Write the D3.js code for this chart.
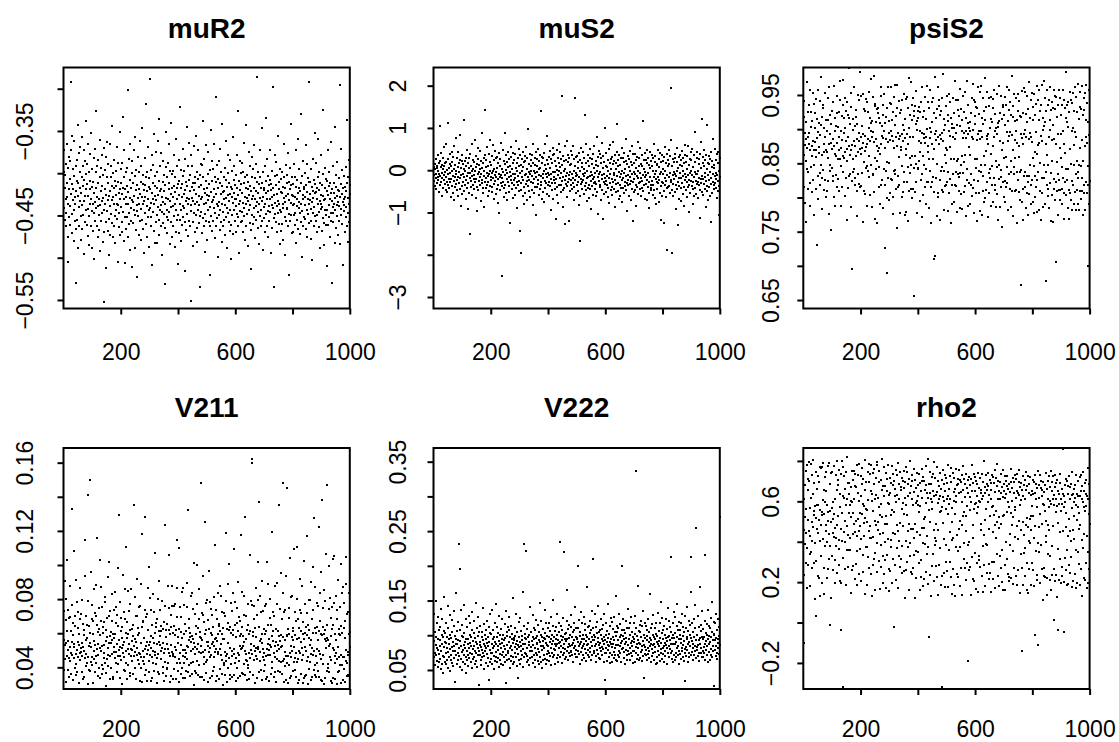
<!DOCTYPE html>
<html>
<head>
<meta charset="utf-8">
<script src="https://cdn.jsdelivr.net/npm/d3@7"></script>
<style>
  body { margin: 0; background: #fff; }
  text { font-family: "Liberation Sans", Arial, sans-serif; }
</style>
</head>
<body>
<div id="chart"></div>
<script>
// trace values, one per iteration (1..1000), stored as integers
// muR2, psiS2, V222, rho2 in thousandths; muS2 in hundredths; V211 in ten-thousandths
var muR2 = [
-398,-441,-372,-455,-418,-402,-463,-389,-431,-447,-366,-412,-428,-475,-505,-394,-436,-381,-452,-419,
-407,-386,-439,-461,-372,-292,-425,-448,-413,-356,-471,-432,-395,-419,-480,-444,-362,-403,-428,-456,
-437,-392,-466,-530,-421,-384,-409,-455,-343,-427,-488,-411,-376,-440,-462,-398,-433,-417,-369,-451,
-424,-479,-405,-357,-438,-466,-392,-415,-449,-372,-433,-496,-408,-385,-427,-458,-338,-419,-444,-401,
-461,-413,-389,-442,-474,-366,-427,-451,-398,-485,-419,-436,-377,-409,-463,-431,-352,-445,-488,-416,
-395,-437,-468,-410,-382,-447,-423,-502,-371,-434,-457,-399,-418,-441,-326,-463,-428,-392,-476,-439,
-412,-384,-449,-430,-467,-405,-361,-438,-492,-421,-394,-456,-433,-378,-447,-415,-481,-402,-429,-370,
-443,-470,-552,-419,-396,-437,-458,-381,-426,-512,-404,-445,-363,-432,-468,-411,-389,-454,-427,-497,
-421,-366,-439,-473,-405,-448,-391,-432,-459,-415,-344,-428,-476,-400,-437,-462,-384,-418,-451,-409,
-482,-426,-397,-443,-415,-369,-454,-436,-505,-410,-438,-388,-464,-423,-447,-351,-419,-473,-430,-395,
-440,-412,-469,-388,-425,-458,-333,-417,-446,-480,-404,-431,-373,-452,-419,-506,-437,-398,-466,-428,
-415,-452,-394,-436,-475,-302,-422,-447,-383,-460,-429,-408,-491,-365,-441,-418,-456,-400,-432,-511,
-386,-434,-459,-411,-372,-444,-427,-488,-403,-449,-357,-420,-467,-396,-438,-414,-523,-445,-381,-429,
-451,-419,-398,-473,-436,-362,-425,-457,-410,-442,-391,-479,-428,-347,-455,-413,-437,-402,-466,-420,
-433,-495,-414,-382,-447,-428,-460,-405,-318,-439,-421,-476,-398,-452,-431,-369,-444,-416,-487,-406,
-289,-441,-419,-463,-396,-435,-452,-378,-424,-509,-411,-446,-390,-430,-468,-354,-437,-415,-482,-427,
-403,-458,-375,-432,-449,-417,-483,-398,-440,-362,-426,-455,-409,-473,-336,-444,-421,-391,-463,-438,
-419,-376,-446,-428,-497,-410,-434,-459,-385,-421,-448,-402,-531,-437,-414,-465,-393,-429,-351,-452,
-443,-405,-471,-388,-430,-455,-419,-366,-446,-412,-484,-433,-397,-458,-425,-341,-440,-418,-476,-401,
-428,-462,-397,-439,-415,-378,-451,-487,-422,-436,-404,-469,-360,-443,-417,-455,-392,-431,-508,-413,
-450,-384,-426,-471,-409,-437,-322,-455,-418,-444,-396,-480,-428,-413,-461,-371,-439,-403,-452,-425,
-397,-441,-516,-420,-458,-383,-433,-410,-467,-429,-345,-448,-415,-391,-474,-436,-408,-456,-364,-431,
-421,-463,-402,-438,-379,-551,-445,-416,-429,-392,-458,-411,-486,-433,-368,-447,-420,-404,-470,-437,
-412,-356,-449,-425,-465,-398,-434,-481,-407,-443,-372,-427,-459,-416,-438,-535,-402,-451,-389,-430,
-446,-414,-471,-390,-428,-453,-405,-338,-437,-462,-419,-383,-448,-424,-493,-409,-435,-367,-457,-426,
-418,-479,-401,-444,-375,-432,-458,-413,-427,-520,-396,-440,-463,-349,-422,-451,-409,-434,-386,-468,
-432,-395,-456,-419,-441,-366,-428,-477,-404,-447,-425,-310,-462,-410,-436,-390,-453,-417,-499,-439,
-407,-450,-386,-434,-467,-412,-443,-371,-425,-458,-399,-436,-481,-415,-342,-446,-422,-463,-405,-431,
-455,-421,-394,-473,-438,-408,-452,-429,-362,-441,-416,-489,-400,-447,-426,-379,-458,-433,-411,-468,
-425,-384,-443,-416,-461,-502,-428,-397,-450,-419,-435,-357,-472,-408,-444,-423,-391,-456,-430,-414,
-439,-469,-402,-431,-378,-448,-417,-463,-326,-426,-452,-409,-437,-495,-420,-445,-386,-433,-458,-400,
-413,-446,-388,-457,-424,-435,-470,-399,-441,-412,-364,-451,-428,-404,-479,-437,-418,-343,-462,-429,
-448,-402,-433,-419,-486,-410,-444,-375,-426,-459,-415,-438,-392,-467,-421,-513,-404,-449,-431,-381,
-427,-460,-395,-441,-418,-367,-452,-430,-477,-406,-439,-421,-455,-389,-434,-410,-286,-446,-424,-465,
-398,-436,-413,-484,-429,-451,-404,-372,-443,-418,-462,-433,-347,-456,-411,-428,-491,-399,-440,-420,
-453,-417,-469,-392,-437,-424,-335,-448,-409,-463,-430,-383,-445,-421,-476,-403,-439,-414,-457,-372,
-431,-408,-446,-420,-494,-413,-438,-465,-397,-428,-298,-441,-418,-453,-535,-426,-403,-448,-379,-435,
-414,-458,-387,-439,-425,-470,-402,-433,-356,-447,-419,-460,-410,-436,-484,-395,-443,-422,-468,-407,
-446,-423,-460,-398,-437,-416,-479,-441,-405,-365,-429,-452,-418,-497,-434,-390,-456,-427,-411,-442,
-402,-441,-376,-425,-463,-410,-448,-432,-520,-419,-394,-457,-435,-414,-342,-449,-426,-471,-405,-438,
-427,-469,-413,-450,-389,-436,-404,-461,-428,-447,-373,-416,-482,-431,-455,-408,-439,-360,-424,-466,
-441,-395,-434,-418,-472,-447,-421,-330,-458,-412,-436,-499,-403,-445,-426,-385,-462,-430,-416,-452,
-419,-454,-400,-438,-428,-367,-466,-414,-443,-422,-389,-475,-431,-406,-448,-292,-437,-410,-459,-425,
-432,-410,-478,-395,-442,-456,-416,-434,-503,-421,-447,-383,-429,-463,-408,-440,-352,-424,-451,-413,
-457,-422,-388,-449,-417,-431,-470,-404,-437,-359,-446,-420,-464,-399,-433,-488,-411,-442,-426,-378,
-436,-468,-414,-440,-325,-453,-427,-401,-459,-432,-485,-418,-444,-394,-430,-461,-407,-449,-421,-510,
-409,-443,-426,-372,-461,-415,-438,-452,-398,-431,-475,-411,-447,-363,-424,-456,-433,-530,-419,-440,
-447,-392,-458,-423,-436,-411,-482,-429,-345,-444,-416,-465,-402,-438,-427,-387,-451,-420,-473,-434,
-421,-457,-406,-439,-484,-296,-428,-449,-413,-371,-442,-425,-460,-396,-434,-509,-418,-445,-403,-430,
-438,-416,-470,-428,-393,-452,-421,-440,-337,-463,-411,-447,-429,-481,-405,-436,-458,-384,-425,-414
];

var muS2 = [
-12,8,-25,14,-38,3,-19,26,-8,-44,11,-31,5,-16,35,-22,-3,18,-51,-9,
104,-14,22,-36,7,-27,41,-6,-60,13,-18,30,-41,2,-11,55,-24,9,-33,17,
-5,-47,20,-15,63,-29,1,-52,27,-10,-36,112,-20,6,-43,15,-28,38,-7,-64,
10,-21,44,-38,-2,19,-55,31,-13,-70,4,-26,58,-17,-40,12,-8,76,-33,-1,
-23,29,-48,7,-15,42,-62,18,-4,-30,83,-19,-45,25,-11,-84,6,-37,21,-56,
36,-9,-27,14,-50,3,118,-16,-35,22,-1,-68,30,-24,11,-42,47,-13,-6,-92,
16,-31,5,-53,28,-18,39,-7,-152,-26,9,-40,61,-14,-2,-58,24,-34,2,-21,
-45,19,-12,71,-29,-3,-66,33,-20,8,-39,15,-97,27,-10,-48,52,-5,-25,12,
3,-36,45,-17,-74,21,-8,-31,88,-22,6,-55,17,-42,30,-13,-1,-86,36,-27,
142,-19,8,-43,25,-6,-35,54,-14,-62,11,-28,38,-9,-49,20,-3,72,-37,-16,
-24,13,-51,33,-7,-40,60,-18,-2,-33,23,-69,4,-26,46,-11,-57,29,-15,-4,
31,-45,6,-21,-78,17,-36,41,-9,-102,26,-15,-48,9,-30,65,-12,-250,-38,2,
-18,48,-27,-5,-63,22,-41,14,-11,87,-34,1,-54,36,-20,-7,-71,19,-29,43,
7,-37,26,-16,-52,10,-4,-125,32,-24,55,-13,-44,3,-31,18,-66,40,-8,-22,
-35,24,-10,-58,38,-19,5,-43,70,-28,-1,-90,16,-36,29,-14,-49,11,-25,51,
-145,-6,35,-197,-30,13,-47,27,-17,-3,-61,44,-22,8,-40,19,-80,33,-12,-55,
21,-33,-9,56,-26,4,-71,30,-15,-38,97,-5,-50,15,-23,39,-10,-64,25,-2,
-29,9,-46,35,-13,-83,18,-31,62,-20,-1,-53,28,-7,-39,13,-107,42,-16,-4,
26,-40,11,-22,50,-33,2,-58,21,-11,37,-45,6,-27,140,-14,-36,16,-67,31,
-8,-51,29,-18,-3,-75,40,-25,12,-42,63,-10,-30,4,-56,23,-17,80,-35,-6,
14,-28,-62,32,-12,45,-37,5,-20,-94,27,-9,-48,18,-31,53,-4,-69,36,-23,
-15,38,-5,-44,22,-30,-115,9,-21,48,-39,1,-59,30,-11,-77,17,-34,61,-2,
43,-19,8,-52,27,-7,-35,176,-26,12,-46,33,-16,-86,21,-3,-41,57,-24,-128,
4,-32,24,-14,68,-38,-6,-64,19,-27,35,-11,-119,28,-20,-50,13,-5,-35,46,
-22,15,-45,37,-9,-31,58,-18,-2,-71,26,-40,10,-24,172,-13,-55,31,-7,-36,
33,-12,-49,20,-29,6,-82,41,-17,-3,-60,24,-167,-33,52,-21,8,-44,17,-27,
-10,42,-24,3,-56,29,-14,-38,130,-6,-47,18,-30,62,-19,-1,-73,35,-16,-42,
22,-35,9,-66,30,-13,-45,50,-25,-4,-91,27,-11,-38,14,-58,39,-20,6,-30,
-17,57,-28,-7,-44,21,-61,13,-33,79,-1,-52,32,-15,-104,10,-26,45,-8,-39,
38,-4,-36,16,-70,28,-12,-47,64,-21,5,-115,34,-29,-9,-57,20,-18,101,-32,
-26,11,-51,40,-14,-35,8,-63,24,-3,-42,49,-19,-77,16,-31,59,-10,-46,27,
2,-39,31,-20,-58,14,-28,67,-7,-45,21,-12,-88,36,-24,4,-52,18,-33,110,
-13,44,-31,9,-49,25,-4,-67,37,-17,-36,12,-60,28,-9,-42,53,-22,-1,-75,
30,-18,-43,19,-6,-55,41,-27,3,-38,74,-14,-48,22,-30,-96,15,-11,34,-23,
-36,8,-62,27,-16,46,-33,-2,-70,20,-25,58,-10,-44,13,-29,-120,38,-5,-52,
17,-21,39,-8,-47,24,-35,5,-84,31,-13,-40,66,-19,-3,-57,28,-31,11,-45,
-6,52,-29,14,-60,-18,35,-41,9,-26,117,-11,-50,23,-35,2,-68,40,-15,-4,
25,-33,-12,47,-23,-71,18,-39,30,-7,-54,13,-28,-90,44,-17,6,-46,21,-36,
-41,10,-25,36,-58,-3,29,-34,-15,62,-48,20,-9,-66,33,-21,-1,-80,15,-27,
12,-44,48,-17,-31,7,-75,26,-22,41,-10,-53,19,-37,-118,-5,35,-28,-60,3,
-30,22,-8,-49,-125,31,-19,55,-35,-2,-64,16,-26,38,-12,-43,-188,24,-40,9,
48,-16,-37,15,-55,-7,34,-29,71,195,-23,-47,10,-197,-33,27,-11,-62,20,-4,
-21,39,-52,-9,28,-36,-14,-92,19,-44,-2,53,-27,-130,6,-38,31,-18,-68,12,
35,-6,-42,24,-19,-73,11,-31,46,-13,-56,-3,29,-40,16,-85,37,-24,-8,60,
-17,-48,20,-29,4,-63,33,-11,-39,58,-22,-100,13,-35,27,-7,-54,42,-26,-1,
23,-37,-12,51,-45,8,-28,-79,35,-16,-61,19,-4,-42,90,-25,-10,-57,30,-33,
-9,43,-27,-3,-66,26,-35,14,-18,-112,39,-46,5,-21,67,-30,120,-13,-52,17,
31,-20,-58,11,-32,48,-7,-44,23,-15,-87,36,-26,2,-49,108,-38,18,-11,-70,
-24,15,-40,34,-60,-5,27,-33,-122,42,-19,8,-53,21,-28,-9,75,-45,13,-36,
6,-30,50,-14,-43,25,-21,-7,-65,38,-11,-49,18,-25,44,-38,-3,-106,29,-16
];

var psiS2 = [
862,941,815,918,877,792,895,764,910,853,886,969,841,873,925,812,889,838,936,879,
894,821,957,788,869,903,844,925,876,808,912,861,953,883,826,937,869,774,847,902,
881,923,859,812,944,870,731,915,887,831,896,798,958,865,909,874,819,892,836,941,
848,977,906,783,829,918,862,935,840,931,879,811,902,866,953,825,889,801,913,870,
914,866,809,897,945,858,824,913,776,878,961,847,920,839,893,752,907,880,843,926,
871,939,832,886,824,963,876,801,898,864,917,787,833,905,860,948,880,815,924,857,
903,827,925,869,889,810,942,856,971,873,788,898,846,919,815,884,972,861,936,838,
858,894,917,802,945,866,901,829,882,926,767,871,939,853,889,814,920,876,831,989,
917,862,834,908,786,933,870,953,824,877,695,915,856,899,837,842,961,883,818,904,
875,829,928,861,918,809,886,773,907,867,950,835,894,820,882,942,815,871,983,863,
889,948,817,872,905,836,893,764,951,880,810,929,852,927,868,890,805,944,874,843,
846,879,940,787,886,925,839,902,830,955,861,882,916,803,897,973,848,909,786,888,
912,833,834,896,947,808,978,881,858,934,769,937,842,885,911,762,876,929,853,924,
868,931,815,845,916,872,790,909,863,962,948,818,879,905,826,890,921,784,887,936,
897,842,952,726,873,909,818,886,839,918,800,689,931,852,962,881,828,895,797,912,
851,884,938,806,937,827,898,962,914,825,890,776,925,801,883,947,839,872,964,834,
906,840,813,919,888,755,931,876,964,831,815,894,859,941,818,886,923,777,890,869,
874,928,801,893,846,942,882,808,906,837,899,951,823,887,774,915,871,944,862,779,
893,822,947,879,766,931,844,901,975,810,836,888,921,858,813,969,847,936,799,913,
860,945,889,812,919,843,656,926,861,934,808,849,907,956,823,912,778,899,843,927,
917,841,854,932,883,795,925,867,898,940,826,880,961,835,894,772,918,861,803,887,
848,893,926,815,947,880,791,915,842,889,963,823,900,876,822,939,866,931,784,857,
902,839,887,958,815,896,762,939,878,823,911,856,830,945,871,710,924,808,893,976,
714,884,916,828,897,773,930,849,889,962,806,801,934,878,943,825,892,767,920,839,
885,927,811,894,845,946,808,883,981,839,899,782,915,862,817,906,851,934,873,818,
870,948,823,921,780,912,838,897,806,952,874,890,827,939,763,856,917,819,901,790,
908,834,889,945,794,902,857,923,818,886,971,838,895,817,942,779,853,906,834,928,
856,943,810,830,919,785,904,836,959,847,929,805,898,861,914,783,887,949,836,852,
895,808,925,862,954,817,887,916,773,898,826,970,841,909,788,893,936,821,874,901,
862,911,790,897,835,923,819,889,946,802,885,966,814,899,942,826,778,908,857,940,
919,843,806,932,884,765,931,857,893,962,824,806,897,839,922,780,886,954,963,847,
837,898,917,775,889,946,810,908,832,926,861,793,914,847,975,800,868,933,811,886,
890,822,955,878,771,893,836,934,946,807,901,842,829,915,788,863,947,819,910,846,
876,944,793,931,829,889,957,811,898,818,922,853,786,902,844,951,805,893,767,909,
903,827,963,848,912,786,882,924,830,948,816,840,915,757,869,933,823,880,936,801,
858,921,824,947,906,793,935,859,816,962,821,896,845,912,781,883,928,834,890,957,
896,812,939,853,786,920,837,891,978,809,934,869,773,918,844,835,951,810,912,858,
884,946,811,897,763,914,838,880,952,825,927,859,808,941,876,796,919,838,672,893,
840,918,794,887,956,813,879,924,767,893,831,960,837,899,816,955,784,888,922,807,
911,832,948,775,930,822,886,969,805,831,894,847,917,790,889,942,818,881,953,826,
858,933,794,914,846,778,951,832,867,921,801,896,815,937,779,864,963,825,877,942,
837,913,782,880,958,809,926,851,890,767,935,828,964,806,883,917,786,899,848,971,
904,829,946,791,911,837,879,678,926,818,862,957,813,802,935,847,942,784,888,913,
821,899,962,836,765,928,853,940,804,884,931,764,906,827,958,812,885,929,796,949,
705,878,823,947,809,852,918,775,936,834,893,811,957,825,872,797,946,811,920,858,
893,791,936,844,812,958,828,897,769,943,806,878,931,822,865,984,804,841,917,936,
826,910,785,939,842,903,769,925,811,954,871,955,806,849,943,797,898,824,938,782,
902,818,953,877,790,926,847,961,808,896,834,947,782,889,925,811,853,966,829,791,
837,915,781,847,954,809,873,932,798,929,846,810,963,828,884,775,921,853,946,818,
928,806,876,953,781,914,823,889,965,807,880,938,819,700,910,846,957,791,891,824
];

var V211 = [
562,387,731,448,905,529,313,676,541,798,1032,467,612,384,553,739,502,346,688,455,
521,694,437,878,482,615,359,767,546,473,1330,592,328,661,517,455,1083,539,701,396,
643,478,357,912,419,786,504,371,628,549,463,722,530,308,594,486,683,442,868,515,
489,712,375,540,468,796,521,333,657,498,587,345,618,452,934,1147,479,563,407,699,
574,428,651,303,1410,462,789,527,383,641,1500,544,376,602,958,431,519,684,458,767,
416,593,307,673,449,556,862,495,718,372,531,702,464,880,426,647,510,1156,352,539,
608,471,746,394,627,1028,513,588,337,669,498,871,414,753,526,361,634,389,599,482,
533,664,457,785,815,427,552,619,293,368,576,448,691,514,406,927,471,1019,544,702,
469,581,728,331,543,605,397,828,479,674,561,342,596,333,517,739,488,574,453,842,
597,428,753,491,662,373,536,708,465,982,417,645,1296,503,558,337,781,522,469,613,
445,689,514,639,302,571,487,939,532,458,724,386,547,683,379,862,425,601,1105,497,
573,332,668,505,846,412,594,477,730,538,351,616,365,774,509,857,468,625,436,552,
501,647,359,583,1352,527,464,812,397,566,489,699,332,548,703,471,917,514,589,443,
628,483,756,421,604,319,762,476,543,396,891,458,637,312,1180,437,672,498,665,417,
462,574,1284,508,739,353,527,386,695,481,711,548,322,619,503,868,439,986,532,371,
551,806,471,737,318,584,512,649,463,339,828,425,571,496,727,381,544,473,602,1072,
489,662,418,635,307,453,682,539,371,798,476,551,904,362,613,529,737,586,493,644,
615,447,789,512,791,364,543,402,627,318,485,663,432,757,1234,506,579,349,621,398,
538,393,652,427,874,509,621,1056,483,747,312,596,468,708,533,351,634,489,761,876,
466,601,333,479,644,392,757,518,769,462,589,334,618,503,867,1145,426,693,376,542,
579,312,447,625,1098,486,751,423,608,531,694,359,572,395,841,504,867,468,336,597,
427,768,503,656,462,339,381,611,487,753,526,448,897,1320,519,371,632,558,413,684,
603,351,579,424,817,493,549,836,362,586,507,742,431,566,298,1010,544,476,712,379,
518,642,367,593,439,772,1002,505,628,353,537,684,416,861,492,609,345,578,1480,526,
572,486,716,343,559,707,491,934,418,663,327,458,598,1251,503,776,433,621,369,548,
441,793,527,678,312,546,488,627,965,459,782,516,335,604,472,743,539,351,588,707,
636,379,548,402,811,523,459,1117,566,491,735,318,573,506,681,347,552,838,481,597,
488,657,332,642,506,879,393,614,473,538,818,361,596,724,443,632,297,569,411,721,
567,424,703,491,353,1186,469,787,437,624,312,478,659,398,541,887,1003,452,616,333,
512,638,358,776,419,602,494,731,346,466,589,833,621,1094,507,353,478,648,426,782,
453,579,322,457,661,398,748,613,484,339,902,471,694,437,526,672,349,583,508,1175,
598,366,634,511,842,585,527,362,709,549,418,817,498,356,1282,479,702,441,567,323,
437,621,398,772,415,648,329,486,593,1061,457,612,372,538,791,504,1620,1600,763,481,
582,354,607,527,683,442,761,498,632,307,579,513,864,467,704,339,446,1018,521,794,
509,638,371,1369,553,492,817,438,569,724,384,596,325,907,541,463,728,509,377,441,
624,487,758,413,597,332,774,469,612,508,345,1016,538,891,474,647,319,566,503,688,
473,801,529,362,648,517,433,586,1194,399,557,724,613,483,701,346,458,879,525,372,
546,313,627,498,769,451,895,532,379,614,438,583,1352,506,742,371,557,429,956,519,
591,524,363,681,437,836,1480,576,312,448,724,491,563,407,738,328,469,938,1450,587,
428,583,307,622,469,748,692,413,596,337,482,1041,459,811,523,347,576,818,494,633,
614,376,559,434,1095,518,727,452,591,383,343,671,486,802,429,567,1106,308,451,686,
497,632,323,574,738,917,487,613,359,549,716,442,878,516,663,309,593,474,1024,339,
568,351,602,517,773,635,498,354,1172,438,587,721,463,649,302,572,796,388,617,433,
532,797,478,903,559,326,681,513,346,604,739,472,988,387,1274,497,628,353,869,411,
603,468,344,637,425,776,508,759,381,562,1225,497,613,343,838,672,479,960,326,594,
449,587,318,1380,472,749,636,421,598,303,854,567,339,621,789,556,1062,513,377,648,
571,1470,396,563,418,742,527,373,996,536,461,808,319,692,442,583,307,624,755,1034,
512,649,337,778,502,1053,468,596,331,427,817,484,559,738,303,447,686,522,915,374,
596,381,624,459,753,412,587,1008,309,642,475,838,416,601,327,869,462,779,393,631,
458,573,312,669,436,889,502,1047,347,426,712,489,358,724,471,835,596,348,609,521
];

var V222 = [
92,68,131,75,104,57,86,149,71,98,63,117,82,54,126,79,95,61,108,73,
84,112,66,93,52,138,77,101,59,88,124,70,97,45,83,155,68,106,90,62,
103,74,89,58,118,81,65,97,142,76,53,110,87,69,94,48,129,80,100,64,
71,96,122,83,60,105,77,91,56,135,85,67,113,33,99,78,88,161,72,94,
58,87,106,74,93,64,119,81,231,70,195,92,55,108,84,137,66,99,76,50,
115,79,62,97,86,143,71,103,59,90,81,124,68,46,95,77,112,64,88,72,
94,56,128,82,67,101,75,89,117,61,98,84,53,133,73,107,80,66,92,120,
69,103,85,58,96,78,147,63,91,74,110,55,87,99,71,126,82,29,104,77,
86,72,114,91,64,83,57,105,79,97,68,139,75,93,51,88,116,70,84,101,
77,95,60,108,82,121,73,89,56,98,85,67,112,35,90,79,103,62,131,74,
102,66,88,75,136,59,94,81,107,70,52,98,84,118,63,91,76,145,68,87,
61,97,112,79,85,67,103,54,92,128,73,88,100,65,82,109,58,95,71,124,
89,76,57,101,93,69,84,116,62,96,80,135,72,31,105,86,99,64,112,78,
74,108,91,66,127,81,53,97,85,70,114,63,94,79,102,58,89,153,68,93,
96,62,83,110,75,99,68,88,131,56,92,80,104,38,86,73,119,65,97,83,
58,91,125,77,84,66,106,93,71,99,162,54,87,80,113,232,69,96,74,102,
88,73,222,94,61,109,82,70,97,118,65,86,100,57,91,78,140,67,83,105,
104,83,69,92,77,129,60,98,86,111,72,94,55,82,107,64,96,122,75,89,
71,99,87,63,115,80,93,58,104,76,147,68,90,84,120,62,101,79,53,97,
92,64,109,85,72,96,81,137,66,94,103,59,89,117,73,86,99,65,110,78,
84,117,75,98,63,90,106,70,127,82,95,57,101,88,74,113,68,92,151,80,
97,71,88,106,79,59,95,84,112,67,100,87,130,72,93,61,104,81,89,118,
235,90,68,99,85,114,76,93,60,108,82,125,71,97,87,220,74,102,66,94,
80,103,92,69,121,78,95,165,83,109,64,96,74,88,115,70,100,84,129,76,
112,77,98,86,71,104,89,62,118,93,81,107,73,140,85,97,68,111,79,95,
69,96,110,78,91,200,84,122,73,99,87,58,105,90,76,133,82,94,117,64,
101,84,72,126,88,95,67,108,80,116,75,92,100,63,170,86,97,79,112,71,
87,114,95,68,103,82,121,76,90,64,107,98,72,135,85,93,110,210,78,100,
75,93,131,84,97,70,112,88,61,103,79,119,91,73,96,142,67,105,86,82,
108,66,89,101,77,124,83,95,109,71,92,80,115,62,98,87,130,74,93,36,
82,100,74,117,90,63,106,79,96,86,145,69,102,84,113,75,91,60,125,88,
94,71,119,83,61,98,88,109,76,127,67,93,81,104,72,156,86,99,65,113,
63,105,86,72,111,93,78,130,68,97,84,116,74,101,89,62,200,92,80,107,
99,82,124,67,94,76,108,87,103,58,91,120,79,96,71,110,65,86,138,77,
86,110,73,95,81,118,64,100,89,75,126,92,70,105,84,60,97,78,117,91,
77,95,102,61,128,83,336,74,110,88,66,99,81,171,72,93,106,64,89,115,
104,67,88,121,76,97,85,63,114,79,92,135,70,101,86,39,118,83,73,96,
71,113,79,93,64,108,99,82,73,124,90,67,105,78,160,84,96,61,111,87,
93,80,116,70,101,86,74,129,88,65,97,111,76,94,83,102,59,118,68,90,
60,99,87,132,78,92,71,106,84,117,63,96,80,148,74,89,103,66,125,82,
107,73,95,84,62,114,89,77,101,70,123,86,96,58,109,81,92,139,75,98,
85,120,68,99,80,93,112,74,88,104,213,66,96,78,117,87,61,101,133,72,
96,64,103,87,126,75,91,69,114,82,98,145,71,107,84,59,119,94,78,100,
73,108,89,117,66,95,81,131,77,99,68,112,86,63,104,92,74,128,80,34,
110,83,70,97,140,79,94,61,106,88,75,120,91,68,101,84,115,72,96,162,
213,92,118,76,87,64,105,81,124,97,71,110,85,143,78,93,254,67,100,83,
79,101,86,70,128,93,75,112,63,96,88,170,74,106,82,115,69,98,135,77,
94,68,109,83,97,74,215,88,121,65,103,79,92,116,71,100,85,137,62,95,
87,114,76,99,64,111,91,80,125,72,97,105,68,148,84,93,78,119,101,27,
102,79,93,118,70,96,84,130,75,108,66,95,123,81,89,112,73,99,86,271
];

var rho2 = [
612,458,-100,235,524,389,681,563,297,748,445,172,368,779,506,654,287,712,451,793,
703,341,428,566,182,784,349,617,496,731,405,269,638,472,804,533,294,689,551,117,
576,392,31,517,747,303,462,581,659,228,726,441,584,219,695,506,768,402,133,558,
483,764,327,546,771,198,532,415,789,608,268,142,657,539,722,378,596,481,452,743,
651,398,582,219,505,267,774,548,437,791,316,-12,553,684,379,742,498,123,566,327,
744,514,262,441,598,777,423,536,195,311,612,468,730,381,419,655,802,482,244,705,
528,683,362,409,754,287,571,205,638,735,463,196,-37,542,799,405,628,-317,770,319,
615,449,726,267,398,661,505,743,186,584,357,476,612,821,433,273,692,357,638,541,
692,357,418,584,603,145,669,522,751,262,597,706,281,544,438,752,487,613,215,675,
447,733,289,502,672,429,781,356,185,643,513,728,452,603,238,787,541,364,476,625,
723,416,204,684,537,763,251,589,334,712,427,495,576,806,142,658,519,372,697,564,
556,372,497,187,745,608,323,694,455,785,270,736,417,479,652,241,779,418,603,129,
638,283,739,554,422,317,688,762,505,342,614,163,717,481,632,396,795,248,781,459,
497,618,303,695,573,752,168,532,440,705,383,589,276,658,811,521,327,674,197,442,
768,242,626,488,308,674,401,527,738,169,653,489,712,336,414,781,594,267,629,155,
589,716,256,643,531,692,372,408,775,196,559,681,441,737,316,-20,545,702,283,628,
436,662,754,212,598,481,728,367,633,170,792,452,611,329,686,403,744,276,492,654,
673,314,381,717,562,243,478,701,593,254,664,537,748,121,618,695,406,580,769,262,
531,746,302,453,684,376,627,159,713,488,641,802,327,395,676,248,462,731,612,239,
702,465,272,581,417,758,336,647,489,123,708,352,594,668,221,739,447,601,348,682,
584,628,295,736,549,162,432,691,578,311,649,227,762,468,615,703,394,179,722,513,
468,701,217,389,658,524,773,252,594,681,337,426,643,809,191,615,372,687,-70,556,
642,237,746,498,611,133,685,562,721,279,596,652,341,733,208,627,456,794,382,417,
717,486,279,632,405,769,224,647,593,458,701,136,612,283,674,549,738,367,625,187,
553,662,228,708,571,-317,619,493,754,246,688,412,602,731,178,649,564,385,716,302,
612,254,693,538,779,177,625,361,659,587,302,724,446,613,696,223,765,409,568,141,
497,738,263,418,645,602,186,717,538,663,129,597,758,374,626,241,683,432,712,356,
684,225,639,757,462,181,708,503,372,647,269,694,481,732,598,137,658,526,774,313,
546,709,392,622,268,687,451,737,213,529,664,294,578,706,384,-190,642,259,401,721,
623,273,681,556,712,138,597,649,325,778,482,216,693,417,561,734,208,652,345,589,
719,592,164,703,541,628,296,684,572,152,739,603,328,666,311,597,714,277,642,458,
487,657,733,229,612,378,698,151,627,801,433,284,671,506,642,182,729,563,391,686,
658,243,386,674,597,742,215,633,463,289,704,527,246,658,611,152,693,574,728,301,
576,722,214,448,689,532,301,757,482,644,171,419,716,553,338,497,677,783,228,614,
702,468,182,651,523,697,331,612,268,736,486,643,199,357,672,528,754,162,619,685,
531,649,723,287,615,162,398,701,638,313,674,548,727,241,596,662,207,223,685,572,
647,382,437,697,543,758,222,481,604,668,354,189,716,523,641,269,698,557,422,731,
573,711,229,618,476,653,188,737,413,642,262,696,502,629,754,148,581,673,339,606,
692,456,-140,658,271,626,497,724,188,431,679,342,613,367,706,229,655,482,743,161,
518,674,296,471,724,148,639,402,687,263,511,718,394,456,632,185,528,297,649,577,
637,262,705,527,418,694,183,641,-60,479,728,356,612,687,237,573,664,209,748,392,
-110,683,349,618,472,731,196,536,665,384,702,263,628,487,657,113,586,694,228,647,
583,268,682,554,227,503,741,397,426,662,138,219,613,702,485,339,571,456,724,209,
671,327,604,748,162,589,653,381,697,236,611,478,724,263,633,15,582,669,204,728,
548,693,237,612,576,705,128,649,491,362,-35,587,634,212,691,447,317,736,553,194,
612,276,661,587,229,858,452,638,203,571,624,-45,683,318,597,471,259,542,712,186,
702,361,429,674,192,638,513,727,286,451,671,247,614,325,688,402,178,743,565,629,
459,634,208,527,663,412,597,682,241,616,173,728,582,361,508,637,195,574,702,348,
628,292,541,463,718,184,627,485,649,266,731,409,612,678,132,597,743,368,652,221,
574,437,689,212,551,706,293,638,578,169,428,627,351,763,196,612,684,538,263,487
];

// axis ticks and which of them carry a label
var xTicks = [200, 400, 600, 800, 1000];
var xLabels = [200, 600, 1000];
var muR2Ticks = [-0.55, -0.50, -0.45, -0.40, -0.35, -0.30], muR2Labels = [-0.55, -0.45, -0.35];
var muS2Ticks = [-3, -2, -1, 0, 1, 2], muS2Labels = [-3, -1, 0, 1, 2];
var psiS2Ticks = [0.65, 0.70, 0.75, 0.80, 0.85, 0.90, 0.95], psiS2Labels = [0.65, 0.75, 0.85, 0.95];
var V211Ticks = [0.04, 0.06, 0.08, 0.10, 0.12, 0.14, 0.16], V211Labels = [0.04, 0.08, 0.12, 0.16];
var V222Ticks = [0.05, 0.10, 0.15, 0.20, 0.25, 0.30, 0.35], V222Labels = [0.05, 0.15, 0.25, 0.35];
var rho2Ticks = [-0.2, 0, 0.2, 0.4, 0.6, 0.8], rho2Labels = [-0.2, 0.2, 0.6];

var panels = [
    {title: "muR2",  values: muR2,  unit: 1000,  col: 0, row: 0, domain: [-0.5601, -0.2749], ticks: muR2Ticks,  labels: muR2Labels,  fmt: ".2f"},
    {title: "muS2",  values: muS2,  unit: 100,   col: 1, row: 0, domain: [-3.272, 2.430],    ticks: muS2Ticks,  labels: muS2Labels,  fmt: "d"},
    {title: "psiS2", values: psiS2, unit: 1000,  col: 2, row: 0, domain: [0.6376, 0.9902],   ticks: psiS2Ticks, labels: psiS2Labels, fmt: ".2f"},
    {title: "V211",  values: V211,  unit: 10000, col: 0, row: 1, domain: [0.0273, 0.1686],   ticks: V211Ticks,  labels: V211Labels,  fmt: ".2f"},
    {title: "V222",  values: V222,  unit: 1000,  col: 1, row: 1, domain: [0.0226, 0.3697],   ticks: V222Ticks,  labels: V222Labels,  fmt: ".2f"},
    {title: "rho2",  values: rho2,  unit: 1000,  col: 2, row: 1, domain: [-0.329, 0.864],    ticks: rho2Ticks,  labels: rho2Labels,  fmt: ".1f"}
];

var width = 1119, height = 742;
var colLeft = [63.5, 433.5, 803.3];
var colLabelX = [33.3, 406.3, 779.3];
var rowTop = [67.5, 448];
var rowBottom = [308.5, 689];
var rowTitleY = [37.7, 417];
var rowTickPad = [29, 25.5];
var plotW = 286.3;
var axisFont = 23, titleFont = 28;
var fontFamily = '"Liberation Sans", Arial, sans-serif';

var svg = d3.select("#chart")
    .append("svg")
    .attr("width", width)
    .attr("height", height);

function hasLabel(list, d) {
    return list.some(function(v) { return Math.abs(v - d) < 1e-9; });
}

panels.forEach(function(p) {
    var left = colLeft[p.col], right = left + plotW;
    var top = rowTop[p.row], bottom = rowBottom[p.row];

    var xScale = d3.scaleLinear().domain([0, 1000]).range([left, right]);
    var yScale = d3.scaleLinear().domain(p.domain).range([bottom, top]);
    var fmt = d3.format(p.fmt);

    var g = svg.append("g");

    // points (pch = ".")
    g.append("g")
        .attr("shape-rendering", "crispEdges")
        .selectAll("rect")
        .data(p.values)
        .enter()
        .append("rect")
            .attr("x", function(d, i) { return Math.round(xScale(i + 1)) - 1; })
            .attr("y", function(d) { return Math.round(yScale(d / p.unit)) - 1; })
            .attr("width", 2)
            .attr("height", 2)
            .attr("fill", "#000");

    var xAxis = g.append("g")
        .attr("transform", `translate(0,${bottom})`)
        .call(d3.axisBottom(xScale)
            .tickValues(xTicks)
            .tickSize(6)
            .tickPadding(rowTickPad[p.row])
            .tickFormat(function(d) { return hasLabel(xLabels, d) ? d : ""; }));
    xAxis.select(".domain").remove();

    var yAxis = g.append("g")
        .attr("transform", `translate(${left},0)`)
        .call(d3.axisLeft(yScale)
            .tickValues(p.ticks)
            .tickSize(6)
            .tickFormat(function(d) { return hasLabel(p.labels, d) ? fmt(d) : ""; }));
    yAxis.select(".domain").remove();
    yAxis.selectAll("text")
        .attr("x", null)
        .attr("dy", null)
        .attr("text-anchor", "middle")
        .attr("transform", `translate(${colLabelX[p.col] - left},0) rotate(-90)`);

    [xAxis, yAxis].forEach(function(a) {
        a.attr("font-size", axisFont).attr("font-family", fontFamily);
        a.selectAll("line").attr("stroke", "#000").attr("stroke-width", 2);
        a.selectAll("text").attr("fill", "#000");
    });

    g.append("rect")
        .attr("x", left)
        .attr("y", top)
        .attr("width", plotW)
        .attr("height", bottom - top)
        .attr("fill", "none")
        .attr("stroke", "#000")
        .attr("stroke-width", 2);

    g.append("text")
        .attr("x", (left + right) / 2)
        .attr("y", rowTitleY[p.row])
        .attr("text-anchor", "middle")
        .attr("font-family", fontFamily)
        .attr("font-weight", "bold")
        .attr("font-size", titleFont)
        .text(p.title);
});
</script>
</body>
</html>
